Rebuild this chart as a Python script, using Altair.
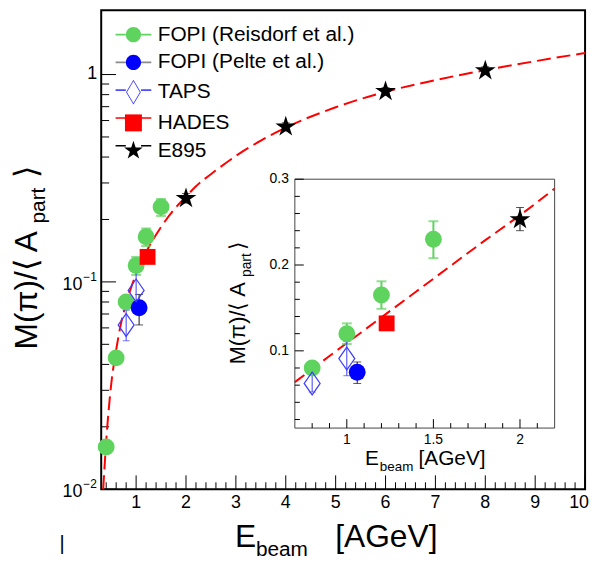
import altair as alt
import pandas as pd

FONT = "Liberation Sans, Arial, Helvetica, sans-serif"

# ---------------- data ----------------
series_names = ["FOPI (Reisdorf et al.)", "FOPI (Pelte et al.)", "TAPS", "HADES", "E895"]
marker_colors = ["#5ed35e", "#0000ff", "#3c3cff", "#ff0000", "#000000"]
line_colors = ["#5ed35e", "#8a8a8a", "#4d4dff", "#ff0000", "#000000"]

reis_x = [0.4, 0.6, 0.8, 1.0, 1.2, 1.5]
reis_y = [0.016, 0.043, 0.080, 0.120, 0.165, 0.230]
reis_lo = [0.0150, 0.0405, 0.0765, 0.108, 0.149, 0.208]
reis_hi = [0.0170, 0.0455, 0.0835, 0.132, 0.181, 0.251]

pelte_x = [1.06]
pelte_y = [0.075]
pelte_lo = [0.062]
pelte_hi = [0.087]

taps_x = [0.8, 1.0]
taps_y = [0.062, 0.091]
taps_lo = [0.052, 0.071]
taps_hi = [0.073, 0.111]

hades_x = [1.23]
hades_y = [0.132]

e895_x = [2.0, 4.0, 6.0, 8.0]
e895_y = [0.253, 0.56, 0.83, 1.045]
e895_lo = [0.240, 0.535, 0.795, 1.00]
e895_hi = [0.267, 0.585, 0.865, 1.09]

curve_x = [0.34, 0.4, 0.5, 0.6, 0.7, 0.8, 0.9, 1.0, 1.2, 1.5, 1.8, 2.0, 2.2,
           2.6, 3.0, 3.5, 4.0, 5.0, 6.0, 7.0, 8.0, 9.0, 10.0]
curve_y = [0.0100, 0.0170, 0.032, 0.047, 0.0635, 0.0786, 0.094, 0.109, 0.139,
           0.184, 0.229, 0.258, 0.289, 0.345, 0.405, 0.48, 0.555, 0.695, 0.825,
           0.94, 1.05, 1.16, 1.27]

# axis ticks and tick labels
main_x_major = [1, 2, 3, 4, 5, 6, 7, 8, 9, 10]
main_x_labels = ["1", "2", "3", "4", "5", "6", "7", "8", "9", "10"]
main_x_minor = [round(0.4 + 0.2 * i, 1) for i in range(48) if abs((0.4 + 0.2 * i) - round(0.4 + 0.2 * i)) > 1e-6]
main_y_major = [0.01, 0.1, 1.0]
main_y_pow_vals = [0.01, 0.1]
main_y_pow_base = ["10", "10"]
main_y_pow_exp = ["−2", "−1"]
main_y_plain_vals = [1.0]
main_y_plain_labels = ["1"]
main_y_minor = [0.02, 0.03, 0.04, 0.05, 0.06, 0.07, 0.08, 0.09,
                0.2, 0.3, 0.4, 0.5, 0.6, 0.7, 0.8, 0.9]
in_x_major = [1.0, 1.5, 2.0]
in_x_labels = ["1", "1.5", "2"]
in_x_minor = [0.8, 0.9, 1.1, 1.2, 1.3, 1.4, 1.6, 1.7, 1.8, 1.9, 2.1]
in_y_major = [0.1, 0.2, 0.3]
in_y_labels = ["0.1", "0.2", "0.3"]
in_y_minor = [0.02, 0.04, 0.06, 0.08, 0.12, 0.14, 0.16, 0.18, 0.22, 0.24, 0.26, 0.28]

y_title_parts = ["M(π)/⟨ A", "part", "⟩"]
x_title_parts = ["E", "beam", "[AGeV]"]

# ---------------- layout ----------------
W, H = 488, 483
IN_X0, IN_X1 = 195.3, 457.3
IN_Y0, IN_Y1 = 421.3, 170.3  # bottom, top (pixels from plot top)

STAR = ("M0,-1L0.225,-0.309L0.951,-0.309L0.363,0.118L0.588,0.809L0,0.382"
        "L-0.588,0.809L-0.363,0.118L-0.951,-0.309L-0.225,-0.309Z")
DIAMOND = "M0,-1L0.7,0L0,1L-0.7,0Z"
LEG_CIRCLE = "M0.85,0A0.85,0.85,0,1,1,-0.85,0A0.85,0.85,0,1,1,0.85,0Z"
LEG_DIAMOND = "M0,-1.39L0.83,0L0,1.39L-0.83,0ZM0,-1.22L-0.72,0L0,1.22L0.72,0Z"
LEG_SQUARE = "M-0.95,-0.95L0.95,-0.95L0.95,0.95L-0.95,0.95Z"
LEG_STAR = ("M0,-1.1L0.247,-0.34L1.046,-0.34L0.4,0.13L0.647,0.89L0,0.42"
            "L-0.647,0.89L-0.4,0.13L-1.046,-0.34L-0.247,-0.34Z")
LEG_LINE = "M-2,0L-0.85,0M0.85,0L2,0"
legend_shapes = [LEG_CIRCLE, LEG_CIRCLE, LEG_DIAMOND, LEG_SQUARE, LEG_STAR]

ONE = pd.DataFrame({"k": [0]})


def df_pts(xs, ys, lo=None, hi=None):
    d = {"x": xs, "y": ys}
    if lo is not None:
        d["lo"] = lo
        d["hi"] = hi
    return pd.DataFrame(d)


reis = df_pts(reis_x, reis_y, reis_lo, reis_hi)
pelte = df_pts(pelte_x, pelte_y, pelte_lo, pelte_hi)
taps = df_pts(taps_x, taps_y, taps_lo, taps_hi)
hades = df_pts(hades_x, hades_y)
e895 = df_pts(e895_x, e895_y, e895_lo, e895_hi)
curve = pd.DataFrame({"x": curve_x, "y": curve_y})


def X(f="x", scale=None):
    if scale is not None:
        return alt.X(f + ":Q", axis=None, scale=scale)
    return alt.X(f + ":Q", axis=None)


def Y(f="y", scale=None):
    if scale is not None:
        return alt.Y(f + ":Q", axis=None, scale=scale)
    return alt.Y(f + ":Q", axis=None)


def points(df, flt, shape, color, size, filled=True, sw=0):
    c = alt.Chart(df)
    if flt:
        c = c.transform_filter(flt)
    return c.mark_point(shape=shape, filled=filled, color=color, size=size,
                        opacity=1, strokeWidth=sw).encode(x=X(), y=Y())


def errbars(df, flt, color, width, cap):
    base = alt.Chart(df)
    if flt:
        base = base.transform_filter(flt)
    rule = base.mark_rule(color=color, strokeWidth=width).encode(
        x=X(), y=Y("lo"), y2="hi:Q")
    c1 = base.mark_tick(color=color, orient="horizontal", size=cap,
                        thickness=width).encode(x=X(), y=Y("lo"))
    c2 = base.mark_tick(color=color, orient="horizontal", size=cap,
                        thickness=width).encode(x=X(), y=Y("hi"))
    return [rule, c1, c2]


def txt(s, x, y, size, angle=0):
    kw = dict(text=s, align="left", baseline="alphabetic", fontSize=size,
              font=FONT, color="black")
    if angle:
        kw["angle"] = angle
    return alt.Chart(ONE).mark_text(**kw).encode(x=alt.value(x), y=alt.value(y))


def xlabels(vals, labels, ypix, size, dx=0):
    return alt.Chart(pd.DataFrame({"v": vals, "t": labels})).mark_text(
        align="center", baseline="top", fontSize=size, font=FONT, color="black", dx=dx
    ).encode(x=X("v"), y=alt.value(ypix), text="t:N")


def ylabels(vals, labels, xpix, size, align="right", dy=0):
    return alt.Chart(pd.DataFrame({"v": vals, "t": labels})).mark_text(
        align=align, baseline="middle", fontSize=size, font=FONT, color="black", dy=dy
    ).encode(y=Y("v"), x=alt.value(xpix), text="t:N")


def rules_x(vals, y0, length):
    return alt.Chart(pd.DataFrame({"v": vals})).mark_rule(color="black", strokeWidth=1).encode(
        x=X("v"), y=alt.value(y0), y2=alt.value(y0 - length))


def rules_y(vals, x0, length):
    return alt.Chart(pd.DataFrame({"v": vals})).mark_rule(color="black", strokeWidth=1).encode(
        y=Y("v"), x=alt.value(x0), x2=alt.value(x0 + length))


# ---------------- main panel ----------------
xs_main = alt.Scale(domain=[0.3, 10], nice=False, zero=False)
ys_main = alt.Scale(type="log", domain=[0.01, 2.04], nice=False)

main_curve = alt.Chart(curve).mark_line(
    color="#ff0000", strokeWidth=2, strokeDash=[14, 6], interpolate="monotone"
).encode(x=X("x", xs_main), y=Y("y", ys_main))

line_keys = ["line: " + s for s in series_names]
leg_df = pd.DataFrame({"series": series_names, "lkey": line_keys})
common_leg = dict(orient="none", legendX=22, legendY=14, title=None, labelFont=FONT,
                  labelFontSize=21, labelColor="black", symbolSize=324, symbolOpacity=1,
                  labelOffset=14, rowPadding=6, padding=0, labelLimit=400)
legend_lines = alt.Chart(leg_df).mark_point(filled=False, opacity=0).encode(
    stroke=alt.Stroke("lkey:N", scale=alt.Scale(domain=line_keys, range=line_colors),
                      legend=alt.Legend(**common_leg, labelExpr="''", symbolType=LEG_LINE,
                                        symbolStrokeWidth=1.6)))
LEG_B = alt.Legend(**common_leg, symbolStrokeWidth=0)
legend_markers = alt.Chart(leg_df).mark_point(filled=True, opacity=0).encode(
    fill=alt.Fill("series:N", scale=alt.Scale(domain=series_names, range=marker_colors), legend=LEG_B),
    shape=alt.Shape("series:N", scale=alt.Scale(domain=series_names, range=legend_shapes), legend=LEG_B),
)


def data_layers(flt):
    return (
        errbars(reis, flt, marker_colors[0], 2, 10)
        + errbars(pelte, flt, "#111111", 1, 8)
        + errbars(taps, flt, marker_colors[2], 1, 7)
        + errbars(e895, flt, "#111111", 1, 8)
        + [
            points(reis, flt, "circle", marker_colors[0], 289),
            points(pelte, flt, "circle", marker_colors[1], 289),
            points(taps, flt, DIAMOND, marker_colors[2], 529, filled=False, sw=1.2),
            points(hades, flt, "square", marker_colors[3], 256),
            points(e895, flt, STAR, marker_colors[4], 484),
        ]
    )


main_labels = [
    xlabels(main_x_major[:-1], main_x_labels[:-1], H + 5, 18),
    xlabels(main_x_major[-1:], main_x_labels[-1:], H + 5, 18, dx=-6),
    ylabels(main_y_pow_vals, main_y_pow_base, -19, 18, dy=3),
    ylabels(main_y_pow_vals, main_y_pow_exp, -18, 12, align="left", dy=-5),
    ylabels(main_y_plain_vals, main_y_plain_labels, -4, 18),
]

titles = [
    txt(y_title_parts[0], -65, 342, 32, 270),
    txt(y_title_parts[1], -57, 215, 21, 270),
    txt(y_title_parts[2], -65, 169, 32, 270),
    txt(x_title_parts[0], 135, 541, 32),
    txt(x_title_parts[1], 156, 550, 21),
    txt(x_title_parts[2], 236, 541, 32),
    txt("|", -42, 544, 20),
]

main = alt.layer(rules_x(main_x_minor, H, 7), rules_x(main_x_major, H, 14),
                 rules_y(main_y_minor, 0, 8), rules_y(main_y_major, 0, 15),
                 main_curve, *data_layers(None), legend_lines, legend_markers,
                 *main_labels, *titles)

# ---------------- inset panel ----------------
FLT = "datum.x >= 0.7 && datum.x <= 2.2"
xs_in = alt.Scale(domain=[0.7, 2.2], range=[IN_X0, IN_X1], nice=False, zero=False)
ys_in = alt.Scale(domain=[0.01, 0.3], range=[IN_Y0, IN_Y1], nice=False, zero=False)

in_rect = alt.Chart(ONE).mark_rect(fill="white", stroke="#444444", strokeWidth=1).encode(
    x=alt.XDatum(0.7, axis=None), x2=alt.X2Datum(2.2),
    y=alt.YDatum(0.01, axis=None), y2=alt.Y2Datum(0.3))

in_curve = alt.Chart(curve).transform_filter(FLT).mark_line(
    color="#ff0000", strokeWidth=2, strokeDash=[12, 6], interpolate="monotone"
).encode(x=X("x", xs_in), y=Y("y", ys_in))

in_labels = [
    xlabels(in_x_major, in_x_labels, IN_Y0 + 5, 14),
    ylabels(in_y_major, in_y_labels, IN_X0 - 6, 14),
]

in_titles = [
    txt(y_title_parts[0], 145, 357, 22, 270),
    txt(y_title_parts[1], 151, 269, 14, 270),
    txt(y_title_parts[2], 145, 242, 22, 270),
    txt(x_title_parts[0], 266, 459, 21),
    txt(x_title_parts[1], 281, 465, 13.5),
    txt(x_title_parts[2], 320, 459, 21),
]

inset = alt.layer(in_rect, in_curve,
                  rules_x(in_x_minor, IN_Y0, 5), rules_x(in_x_major, IN_Y0, 9),
                  rules_y(in_y_minor, IN_X0, 5), rules_y(in_y_major, IN_X0, 9),
                  *data_layers(FLT), *in_labels, *in_titles)

chart = alt.layer(main, inset).resolve_scale(
    x="independent", y="independent"
).properties(
    width=W, height=H,
    padding={"left": 94, "top": 0, "right": 8, "bottom": 69},
    autosize=alt.AutoSizeParams(type="none"),
).configure_view(stroke="black", strokeWidth=2)

chart.save("out.html", embed_options={"renderer": "svg", "actions": False})
